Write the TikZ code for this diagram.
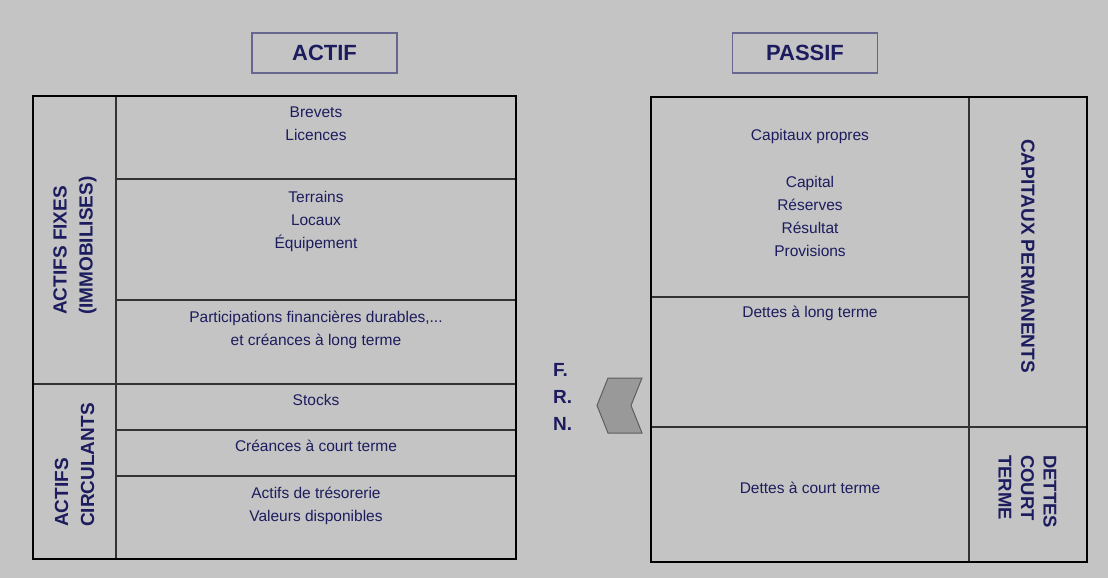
\documentclass[tikz,border=0pt]{standalone}
\usepackage{fontspec}
\setmainfont{Liberation Sans}
\definecolor{navy}{HTML}{1C1C5E}
\definecolor{fond}{HTML}{C4C4C4}
\definecolor{cadre}{HTML}{66668F}
\definecolor{trait}{HTML}{333333}
\definecolor{gris}{HTML}{999999}
\tikzstyle{titre} = [rectangle, draw=cadre, line width=1.4, minimum width=145, minimum height=40, text=navy, font=\fontsize{22}{26}\selectfont\bfseries]
\tikzstyle{poste} = [align=center, text=navy, inner sep=0, font=\fontsize{15.5}{23}\selectfont]
\tikzstyle{masse} = [align=left, text=navy, inner sep=0, font=\fontsize{19}{26}\selectfont\bfseries]
\tikzstyle{bord} = [line width=2.6, draw=black]
\tikzstyle{ligne} = [line width=1.3, draw=trait]
\tikzstyle{fleche} = [fill=gris, draw=trait!80, line width=1]

\begin{document}
\begin{tikzpicture}[x=1pt, y=-1pt]
\fill [fond] (0,0) rectangle (1108,578);
\node (actif) [titre] at (324.5, 53) {ACTIF};
\node (passif) [titre] at (805, 53) {PASSIF};
% actif
\draw [ligne] (116,96) -- (116,559);
\foreach \y in {179,300,430,476}
  \draw [ligne] (116,\y) -- (516,\y);
\draw [ligne] (33,384) -- (516,384);
\draw [bord] (33,96) rectangle (516,559);
\node (fixes) [masse, rotate=90, anchor=west] at (75, 315) {ACTIFS FIXES\\(IMMOBILISES)};
\node (circulants) [masse, rotate=90, anchor=west] at (74.5, 527) {ACTIFS\\CIRCULANTS};
\node (brevets) [poste] at (316, 123.5) {Brevets\\Licences};
\node (terrains) [poste] at (316, 221) {Terrains\\Locaux\\Équipement};
\node (particip) [poste] at (316, 329.5) {Participations financières durables,...\\et créances à long terme};
\node (stocks) [poste] at (316, 400) {Stocks};
\node (creances) [poste] at (316, 446) {Créances à court terme};
\node (tresorerie) [poste] at (316, 505.5) {Actifs de trésorerie\\Valeurs disponibles};
% passif
\draw [ligne] (969,97) -- (969,562);
\draw [ligne] (651,297) -- (969,297);
\draw [ligne] (651,427) -- (1087,427);
\draw [bord] (651,97) rectangle (1087,562);
\node (propres) [poste] at (810, 136) {Capitaux propres};
\node (capital) [poste] at (810, 216.5) {Capital\\Réserves\\Résultat\\Provisions};
\node (dlt) [poste] at (810, 313) {Dettes à long terme};
\node (dct) [poste] at (810, 488) {Dettes à court terme};
\node (permanents) [masse, rotate=-90] at (1028, 256) {CAPITAUX PERMANENTS};
\node (court) [masse, rotate=-90, anchor=west, font=\fontsize{18.5}{22.5}\selectfont\bfseries] at (1027.5, 455) {DETTES\\COURT\\TERME};
% fonds de roulement
\node (frn) [masse, anchor=west, font=\fontsize{19}{27}\selectfont\bfseries] at (553, 397) {F.\\R.\\N.};
\draw [fleche] (608,378) -- (642,378) -- (631,405.5) -- (642,433) -- (608,433) -- (597,405.5) -- cycle;
\end{tikzpicture}
\end{document}
